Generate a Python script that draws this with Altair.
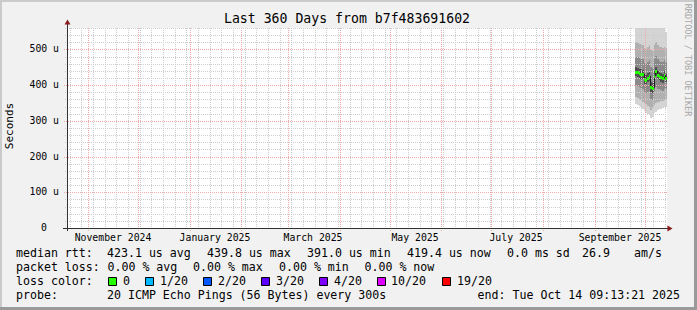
import altair as alt
import pandas as pd

MONO = "DejaVu Sans Mono"
NB = "\u00a0"

# ---------------- data ----------------
# daily consolidated samples, 2025-09-25 .. 2025-10-13 (19 days), values in microseconds
median_us = [437, 436, 434, 431, 431, 417, 415, 421, 425, 394, 391, 427, 439.8, 428, 425, 422, 419, 428, 419.4]
lo0 = [348, 345, 342, 338, 333, 328, 322, 318, 316, 308, 312, 322, 326, 330, 332, 334, 336, 338, 340]
lo1 = [368, 365, 362, 358, 354, 350, 346, 342, 340, 330, 335, 345, 350, 352, 354, 356, 356, 358, 360]
lo2 = [400, 398, 395, 392, 390, 382, 378, 380, 385, 360, 358, 385, 395, 390, 388, 386, 384, 390, 388]
lo3 = [425, 424, 421, 418, 418, 404, 402, 408, 412, 380, 378, 414, 426, 416, 413, 410, 407, 416, 408]
hi3 = [450, 448, 446, 444, 443, 430, 428, 434, 438, 410, 406, 440, 452, 441, 438, 435, 432, 441, 432]
hi2 = [480, 478, 476, 474, 472, 462, 460, 466, 470, 450, 448, 472, 482, 472, 468, 466, 464, 470, 466]
hi1 = [520, 518, 516, 514, 512, 505, 502, 508, 512, 498, 495, 512, 520, 512, 508, 506, 504, 508, 504]
hi0 = [590, 588, 586, 584, 580, 575, 572, 578, 582, 570, 568, 580, 590, 582, 578, 575, 572, 560, 548]
band_colors = ["#d4d4d4", "#b0b0b0", "#8a8a8a", "#505050"]

month_label_dates = ["2024-11-16", "2025-01-16", "2025-03-16", "2025-05-16", "2025-07-16", "2025-09-16"]
month_labels = ["November 2024", "January 2025", "March 2025", "May 2025", "July 2025", "September 2025"]
y_major = [0, 100, 200, 300, 400, 500]
y_major_labels = ["0", "100 u", "200 u", "300 u", "400 u", "500 u"]
y_minor = [v for v in range(20, 561, 20) if v % 100 != 0]

loss_labels = ["0", "1/20", "2/20", "3/20", "4/20", "10/20", "19/20"]
loss_colors = ["#26ff00", "#00b8ff", "#0059ff", "#5e00ff", "#7e00ff", "#dd00ff", "#ff0000"]

# ---------------- tables ----------------
dates = pd.date_range("2025-09-25 09:13:21", periods=len(median_us) + 1, freq="D")
iso = [d.strftime("%Y-%m-%dT%H:%M:%SZ") for d in dates]
rep = lambda a: list(a) + [a[-1]]
smoke = pd.DataFrame({
    "t": iso, "med": rep(median_us),
    "lo0": rep(lo0), "hi0": rep(hi0), "lo1": rep(lo1), "hi1": rep(hi1),
    "lo2": rep(lo2), "hi2": rep(hi2), "lo3": rep(lo3), "hi3": rep(hi3),
})
seg = pd.DataFrame({"t": iso[:-1], "t2": iso[1:], "med": median_us})

major_v = pd.DataFrame({"t": [d.strftime("%Y-%m-%dT00:00:00Z") for d in pd.date_range("2024-11-01", "2025-10-01", freq="MS")]})
minor_v = pd.DataFrame({"t": [d.strftime("%Y-%m-%dT00:00:00Z") for d in pd.date_range("2024-10-21", "2025-10-13", freq="7D")]})
major_h = pd.DataFrame({"v": y_major[1:]})
minor_h = pd.DataFrame({"v": y_minor})
mlab = pd.DataFrame({"t": [d + "T00:00:00Z" for d in month_label_dates], "lab": month_labels})
ylab = pd.DataFrame({"v": y_major, "lab": y_major_labels})

xscale = alt.Scale(type="utc", round=True, domain=[
    alt.DateTime(year=2024, month=10, date=19, hours=9, minutes=13, seconds=21, utc=True),
    alt.DateTime(year=2025, month=10, date=14, hours=9, minutes=13, seconds=21, utc=True)])
yscale = alt.Scale(domain=[0, 560], nice=False, round=True)
X = lambda f: alt.X(f, type="temporal", scale=xscale, axis=None)
Y = lambda f: alt.Y(f, type="quantitative", scale=yscale, axis=None)

one = alt.Data(values=[{}])


def txt(s, x, y, size=11.6, align="left", color="#000000", angle=0, font=MONO):
    return alt.Chart(one).mark_text(text=s.replace(" ", NB), align=align, baseline="middle",
                                    fontSize=size, font=font, color=color, angle=angle).encode(
        x=alt.value(x), y=alt.value(y))


def box(x0, y0, x1, y1, fill, stroke=None):
    kw = dict(fill=fill)
    if stroke:
        kw.update(stroke=stroke, strokeWidth=1)
    return alt.Chart(one).mark_rect(**kw).encode(
        x=alt.value(x0), x2=alt.value(x1), y=alt.value(y0), y2=alt.value(y1))


layers = []
# smoke bands
for i, c in enumerate(band_colors):
    layers.append(alt.Chart(smoke).mark_area(interpolate="step-after", color=c, clip=True).encode(
        x=X("t:T"), y=Y(f"lo{i}:Q"), y2=f"hi{i}:Q"))

# grid
MINOR = "#cdcdcd"
MAJOR = "#f3a8a8"
layers.append(alt.Chart(minor_v).mark_rule(color=MINOR, strokeDash=[1, 1], strokeWidth=1, xOffset=0.5).encode(
    x=X("t:T"), y=alt.value(0), y2=alt.value(202)))
layers.append(alt.Chart(minor_h).mark_rule(color=MINOR, strokeDash=[1, 1], strokeWidth=1, yOffset=0.5).encode(
    y=Y("v:Q"), x=alt.value(-2), x2=alt.value(600)))
layers.append(alt.Chart(major_v).mark_rule(color=MAJOR, strokeDash=[1, 1], strokeWidth=1, xOffset=0.5).encode(
    x=X("t:T"), y=alt.value(0), y2=alt.value(203)))
layers.append(alt.Chart(major_h).mark_rule(color=MAJOR, strokeDash=[1, 1], strokeWidth=1, yOffset=0.5).encode(
    y=Y("v:Q"), x=alt.value(-3), x2=alt.value(600)))

# median
layers.append(alt.Chart(smoke).mark_line(interpolate="step-after", color="#202020", strokeWidth=1, xOffset=0.5).encode(
    x=X("t:T"), y=Y("med:Q")))
layers.append(alt.Chart(seg).mark_rule(color="#26ff00", strokeWidth=3, yOffset=0.5).encode(
    x=X("t:T"), x2="t2:T", y=Y("med:Q")))

# axes lines and arrows
layers.append(alt.Chart(one).mark_rule(color="#303030", strokeWidth=1).encode(
    x=alt.value(0.5), y=alt.value(-6), y2=alt.value(203)))
layers.append(alt.Chart(one).mark_rule(color="#303030", strokeWidth=1).encode(
    x=alt.value(-4), x2=alt.value(603), y=alt.value(200.5)))
layers.append(alt.Chart(one).mark_point(shape="triangle-up", filled=True, size=35, color="#8b1a1a", opacity=1).encode(
    x=alt.value(0.5), y=alt.value(-6)))
layers.append(alt.Chart(one).mark_point(shape="triangle-right", filled=True, size=35, color="#8b1a1a", opacity=1).encode(
    x=alt.value(603), y=alt.value(200.5)))

# tick labels
layers.append(alt.Chart(mlab).mark_text(font=MONO, fontSize=9.8, align="center", baseline="middle", color="#000").encode(
    x=X("t:T"), y=alt.value(210), text="lab:N"))
layers.append(alt.Chart(ylab[ylab.v > 0]).mark_text(font=MONO, fontSize=9.8, align="right", baseline="middle", color="#000").encode(
    y=Y("v:Q"), x=alt.value(-8), text="lab:N"))
layers.append(alt.Chart(ylab[ylab.v == 0]).mark_text(font=MONO, fontSize=9.8, align="right", baseline="middle", color="#000").encode(
    y=Y("v:Q"), x=alt.value(-20), text="lab:N"))

# titles
layers.append(txt("Last 360 Days from b7f483691602", 280, -9, size=13.2, align="center"))
layers.append(txt("Seconds", -57, 98, size=11, align="center", angle=270))
layers.append(txt("RRDTOOL / TOBI OETIKER", 621, 32, size=8.5, align="center", angle=90, color="#a8a8a8"))

# legend
L1, L2, L3, L4 = 226, 240, 254, 268
layers += [
    txt("median rtt:", -51, L1),
    txt("423.1 us avg", 40, L1), txt("439.8 us max", 140, L1), txt("391.0 us min", 240, L1),
    txt("419.4 us now", 340, L1), txt("0.0 ms sd", 440, L1), txt("26.9", 515, L1), txt("am/s", 567, L1),
    txt("packet loss:", -51, L2),
    txt("0.00 % avg", 40.5, L2), txt("0.00 % max", 126, L2), txt("0.00 % min", 212, L2), txt("0.00 % now", 297.5, L2),
    txt("loss color:", -51, L3),
    txt("probe:", -51, L4),
    txt("20 ICMP Echo Pings (56 Bytes) every 300s", 40, L4),
    txt("end: Tue Oct 14 09:13:21 2025", 613, L4, align="right"),
]
box_x = [41.5, 78.5, 136.5, 194.5, 252.5, 310.5, 375.5]
lab_x = [56, 93, 151, 209, 267, 324, 390]
for bx, lx, lab, col in zip(box_x, lab_x, loss_labels, loss_colors):
    layers.append(box(bx, L3 - 4.5, bx + 8, L3 + 3.5, col, stroke="#000000"))
    layers.append(txt(lab, lx, L3))

# image frame
layers += [
    box(-67, -28, 630, -26, "#cbcbcb"),
    box(-67, -28, -65, 282, "#cbcbcb"),
    box(627, -28, 630, 282, "#9a9a9a"),
    box(-67, 279, 630, 282, "#9a9a9a"),
]

chart = alt.layer(*layers).properties(
    width=600, height=200,
    autosize=alt.AutoSizeParams(type="none"),
    padding={"left": 67, "top": 28, "right": 30, "bottom": 82},
    background="#f1f1f1",
).configure_view(fill="#ffffff", stroke=None)

chart.save("out.html", embed_options={"renderer": "svg", "actions": False})
